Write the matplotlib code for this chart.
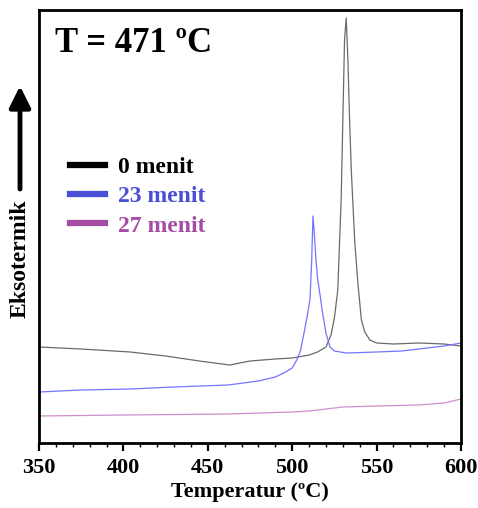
import matplotlib
matplotlib.use("Agg")
import matplotlib.pyplot as plt
from matplotlib.ticker import MultipleLocator

# ---- data (arbitrary exothermic signal units) ----
t_0 = [350, 375, 404, 425, 445, 463, 475, 490, 500, 510, 515, 520, 523, 525, 527,
       529, 530, 531, 532, 533, 534, 535, 537, 539, 541, 543, 546, 550, 560, 575, 590, 600]
s_0 = [96, 94, 91, 87, 82, 78, 82, 84, 85, 88, 91, 96, 108, 125, 153,
       243, 323, 403, 425, 383, 323, 273, 203, 158, 123, 111, 103, 100, 99, 100, 99, 97]

t_23 = [350, 375, 404, 430, 462, 480, 490, 495, 500, 503, 505, 507, 509, 510.5, 511.5,
        512.3, 513, 514, 515, 516.5, 518, 520, 522.4, 525, 532, 550, 565, 575, 590, 600]
s_23 = [51, 53, 54, 56, 58, 62, 66, 70, 75, 84, 93, 110, 128, 143, 180,
        227, 212, 185, 165, 148, 130, 110, 96, 92, 90, 91, 92, 94, 97, 100]

t_27 = [350, 400, 462, 500, 510, 520, 530, 550, 575, 590, 600]
s_27 = [27, 28, 29, 31, 32, 34, 36, 37, 38, 40, 44]

labels = ["0 menit", "23 menit", "27 menit"]
line_colors = ["#6a6a6a", "#7474ff", "#cf8fcf"]
legend_colors = ["#000000", "#4a4fd6", "#a54ca5"]

serif = ["Liberation Serif", "DejaVu Serif"]
plt.rcParams["font.family"] = serif

fig = plt.figure(figsize=(4.78, 5.08), dpi=100)
ax = fig.add_axes([39/478, 1 - 443/508, (461-39)/478, (443-10)/508])

for t, s, c, lab in zip([t_0, t_23, t_27], [s_0, s_23, s_27], line_colors, labels):
    ax.plot(t, s, color=c, lw=0.9, label=lab)

ax.set_xlim(350, 600)
ax.set_ylim(0, 433)
ax.set_yticks([])
ax.xaxis.set_major_locator(MultipleLocator(50))
ax.xaxis.set_minor_locator(MultipleLocator(10))
ax.tick_params(axis="x", which="major", direction="out", length=6, width=1.6,
               labelsize=16, pad=5)
ax.tick_params(axis="x", which="minor", direction="out", length=3, width=1.0)
for lbl in ax.get_xticklabels():
    lbl.set_fontweight("bold")
for sp in ax.spines.values():
    sp.set_linewidth(2)

ax.set_xlabel("Temperatur (ºC)", fontsize=16, fontweight="bold", labelpad=3)

ax.text(0.037, 0.96, "T = 471 ºC", transform=ax.transAxes, fontsize=25,
        fontweight="bold", va="top", ha="left")

leg = ax.legend(loc="upper left", bbox_to_anchor=(0.024, 0.71), frameon=False,
                handlelength=1.45, handletextpad=0.55, labelspacing=0.32,
                prop={"weight": "bold", "size": 17})
for line, c in zip(leg.get_lines(), legend_colors):
    line.set_color(c)
    line.set_linewidth(4.5)
for txt, c in zip(leg.get_texts(), legend_colors):
    txt.set_color(c)

# y-axis label with arrow
fig.text(20/478, 1 - 259/508, "Eksotermik", rotation=90, fontsize=17,
         fontweight="bold", ha="center", va="center")
fig.patches.append(matplotlib.patches.FancyArrowPatch(
    (20/478, 1 - 189/508), (20/478, 1 - 86/508), transform=fig.transFigure,
    arrowstyle="-|>", mutation_scale=32, lw=3.5, color="black",
    shrinkA=0, shrinkB=0))

fig.savefig("out.png", dpi=100)
